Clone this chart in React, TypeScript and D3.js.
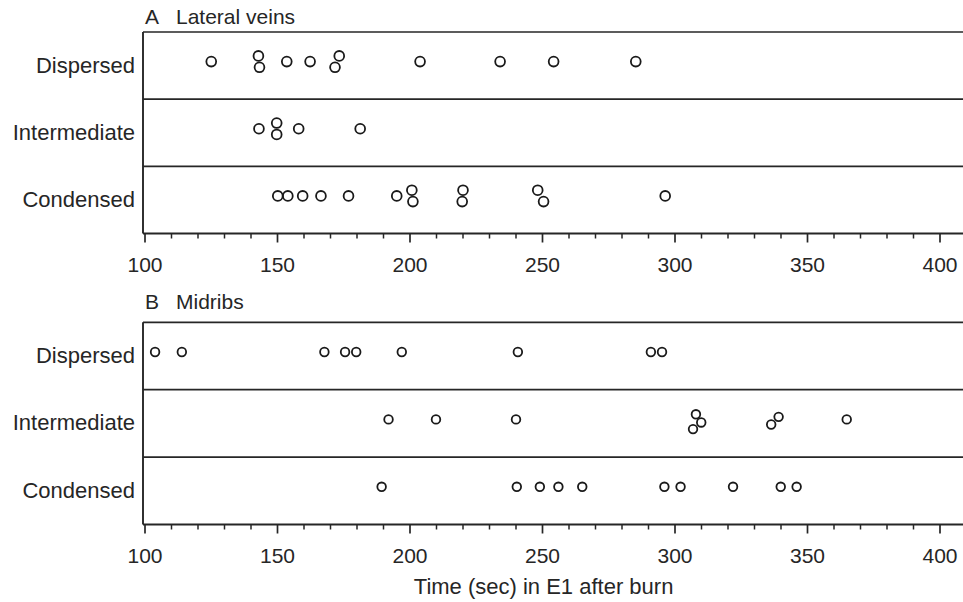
import React from "react";
import * as d3 from "d3";

const categories = ["Dispersed", "Intermediate", "Condensed"];
const majorTicks = [100, 150, 200, 250, 300, 350, 400];
const minorTicks = [110, 120, 130, 140, 160, 170, 180, 190, 210, 220, 230, 240, 260, 270, 280, 290, 310, 320, 330, 340, 360, 370, 380, 390, 410];
const xDomain = [100, 400];
const axisTitle = "Time (sec) in E1 after burn";

// Panel A: Lateral veins
const lateralDispersed = [125, 142.8, 143.2, 153.5, 162.3, 173.3, 171.7, 203.8, 234, 254.2, 285.2];
const lateralDispersedLane = [0, -1, 1, 0, 0, -1, 1, 0, 0, 0, 0];
const lateralIntermediate = [143, 149.7, 149.7, 158, 181.2];
const lateralIntermediateLane = [0, -1, 1, 0, 0];
const lateralCondensed = [150.1, 153.9, 159.5, 166.4, 176.8, 195, 200.7, 201.1, 220, 219.7, 248.2, 250.4, 296.3];
const lateralCondensedLane = [0, 0, 0, 0, 0, 0, -1, 1, -1, 1, -1, 1, 0];

// Panel B: Midribs
const midribDispersed = [103.8, 113.9, 167.7, 175.5, 179.7, 196.9, 240.7, 290.9, 295.1];
const midribDispersedLane = [0, 0, 0, 0, 0, 0, 0, 0, 0];
const midribIntermediate = [191.9, 209.8, 240, 307.9, 309.9, 306.8, 339.1, 336.3, 364.8];
const midribIntermediateLane = [0, 0, 0, -1, 0.6, 1.9, -0.5, 1, 0];
const midribCondensed = [189.3, 240.3, 249, 256, 265, 296, 302.1, 321.9, 339.9, 345.9];
const midribCondensedLane = [0, 0, 0, 0, 0, 0, 0, 0, 0, 0];

const FONT = "'Liberation Sans', Arial, Helvetica, sans-serif";
const INK = "#262626";
const W = 963;
const H = 602;

const x = d3.scaleLinear().domain(xDomain).range([145, 940]);

type Group = { values: number[]; lanes: number[] };

function Panel(props: {
  letter: string;
  title: string;
  top: number;
  bottom: number;
  groups: Group[];
  r: number;
  titleY: number;
}) {
  const { letter, title, top, bottom, groups, r, titleY } = props;
  const y = d3.scaleBand<string>().domain(categories).range([top, bottom]);
  const left = x(100) - 2;
  const bw = y.bandwidth();
  return (
    <g>
      <text x={145} y={titleY} fontSize={21} fill={INK} fontFamily={FONT}>{letter}</text>
      <text x={176} y={titleY} fontSize={21} fill={INK} fontFamily={FONT}>{title}</text>
      {/* box */}
      <line x1={left} x2={W + 10} y1={top} y2={top} stroke={INK} strokeWidth={1.7} />
      <line x1={left} x2={left} y1={top} y2={bottom} stroke={INK} strokeWidth={1.9} />
      {categories.slice(1).map((c) => (
        <line key={c} x1={left} x2={W + 10} y1={y(c)!} y2={y(c)!} stroke={INK} strokeWidth={1.7} />
      ))}
      {/* axis */}
      <line x1={left} x2={W + 10} y1={bottom} y2={bottom} stroke={INK} strokeWidth={2.2} />
      {majorTicks.map((t) => (
        <g key={"M" + t}>
          <line x1={x(t)} x2={x(t)} y1={bottom} y2={bottom + 9} stroke={INK} strokeWidth={1.7} />
          <text x={x(t)} y={bottom + 38} textAnchor="middle" fontSize={21} fill={INK} fontFamily={FONT}>{t}</text>
        </g>
      ))}
      {minorTicks.map((t) => (
        <line key={"m" + t} x1={x(t)} x2={x(t)} y1={bottom} y2={bottom + 5} stroke={INK} strokeWidth={1.5} />
      ))}
      {/* category labels */}
      {categories.map((c) => (
        <text key={c} x={135} y={y(c)! + bw / 2 + 7} textAnchor="end" fontSize={22} fill={INK} fontFamily={FONT}>{c}</text>
      ))}
      {/* points */}
      {groups.map((g, gi) =>
        g.values.map((v, i) => (
          <circle
            key={gi + "-" + i}
            cx={x(v)}
            cy={y(categories[gi])! + bw / 2 - 4 + g.lanes[i] * (r + 0.8)}
            r={r}
            fill="none"
            stroke="#1a1a1a"
            strokeWidth={1.8}
          />
        ))
      )}
    </g>
  );
}

export default function App() {
  return (
    <div style={{ position: "fixed", left: 0, top: 0, width: W, height: H, background: "#fff" }}>
      <svg width={W} height={H} viewBox={`0 0 ${W} ${H}`} style={{ display: "block" }}>
        <rect width={W} height={H} fill="#fff" />
        <Panel
          letter="A"
          title="Lateral veins"
          top={32}
          bottom={233.5}
          titleY={24}
          r={4.9}
          groups={[
            { values: lateralDispersed, lanes: lateralDispersedLane },
            { values: lateralIntermediate, lanes: lateralIntermediateLane },
            { values: lateralCondensed, lanes: lateralCondensedLane },
          ]}
        />
        <Panel
          letter="B"
          title="Midribs"
          top={322.3}
          bottom={524.5}
          titleY={309}
          r={4.3}
          groups={[
            { values: midribDispersed, lanes: midribDispersedLane },
            { values: midribIntermediate, lanes: midribIntermediateLane },
            { values: midribCondensed, lanes: midribCondensedLane },
          ]}
        />
        <text x={543.6} y={594} textAnchor="middle" fontSize={22} fill={INK} fontFamily={FONT}>{axisTitle}</text>
      </svg>
    </div>
  );
}
